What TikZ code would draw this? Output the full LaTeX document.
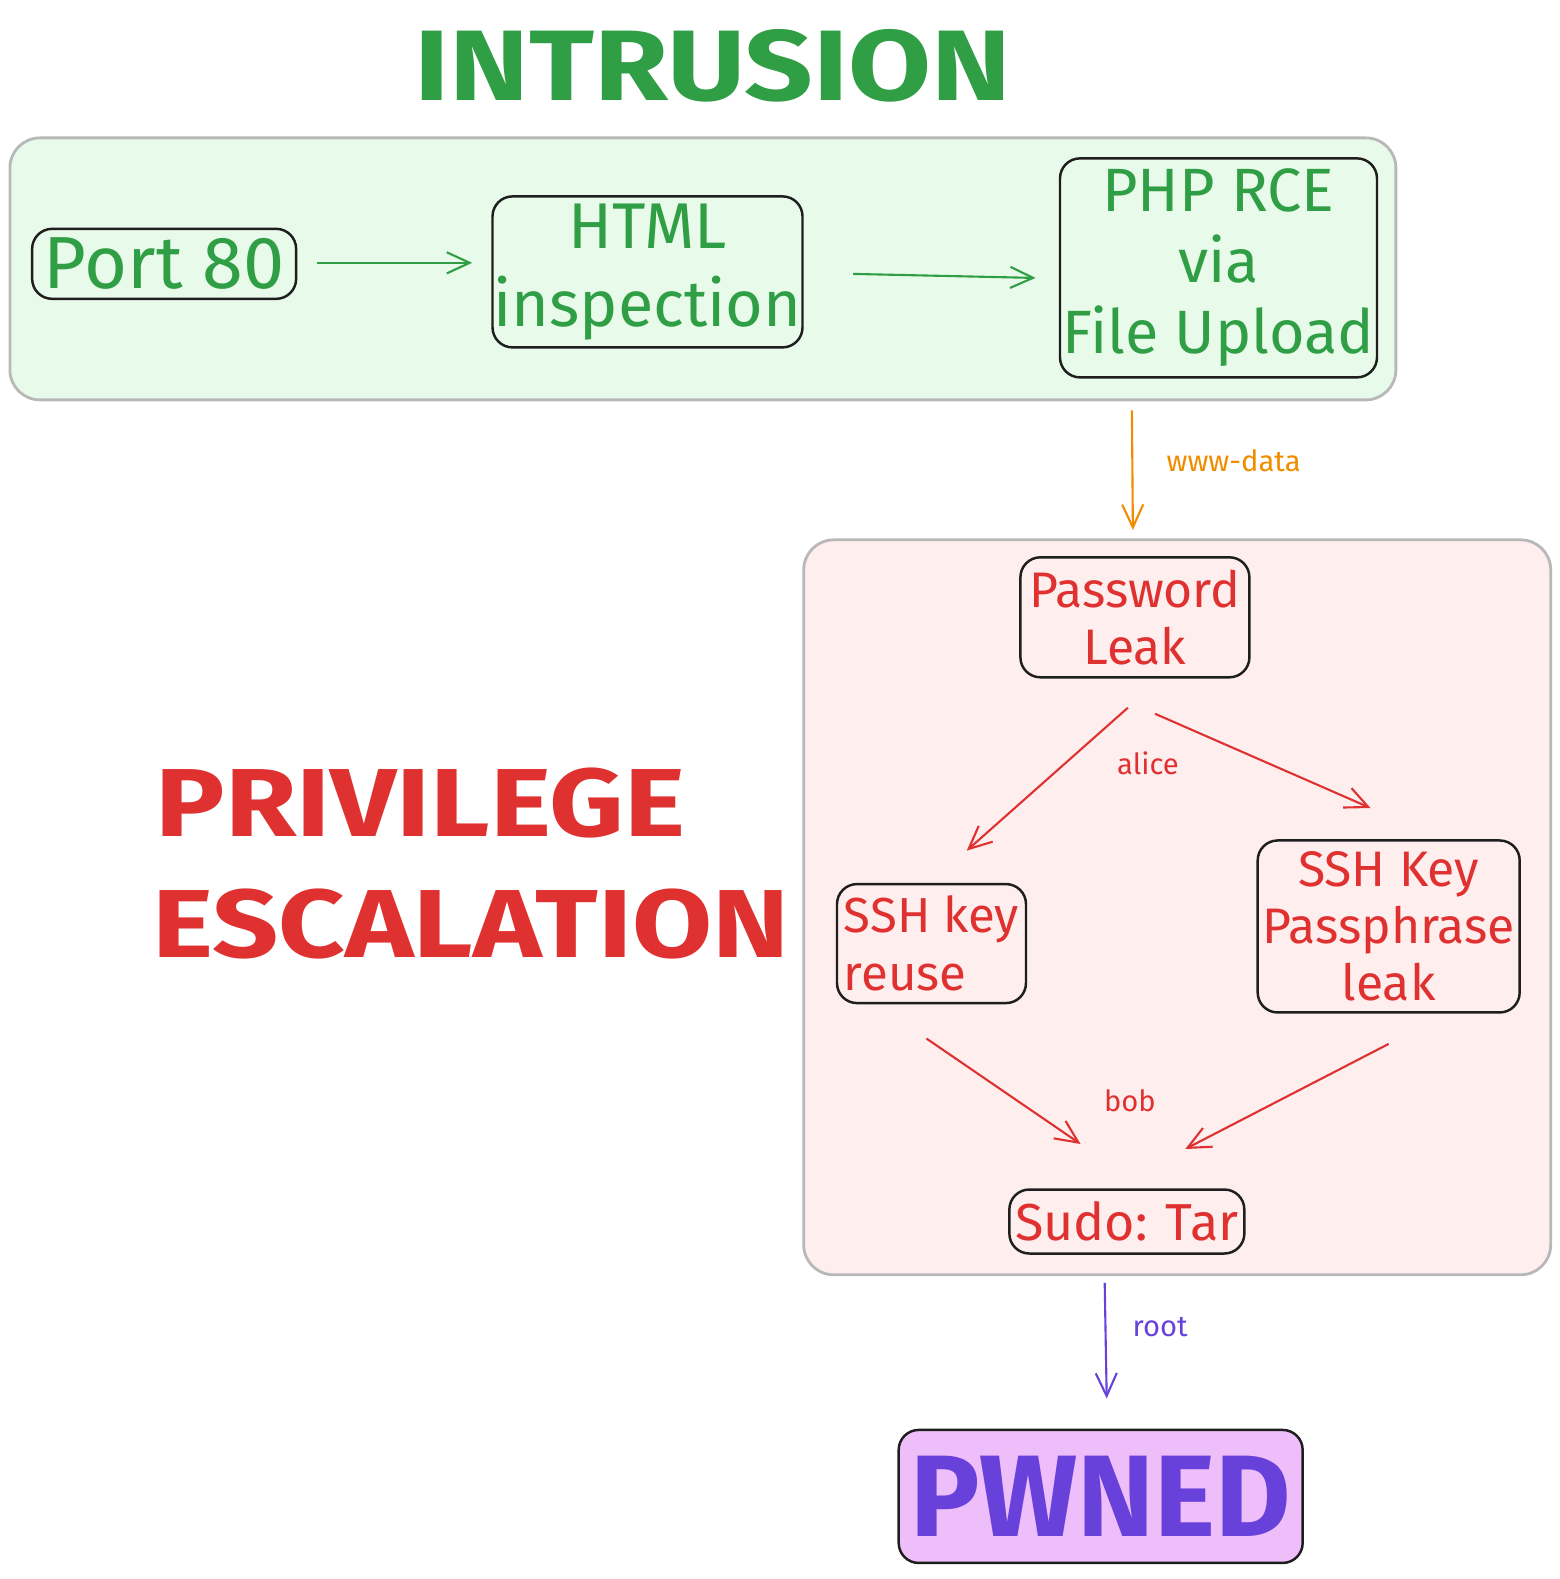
\documentclass[tikz,border=0pt]{standalone}
\usepackage{fontspec}
\setmainfont{Fira Sans}
\newfontfamily\headfont[FakeStretch=1.2]{Fira Sans}
\usetikzlibrary{arrows.meta}
\definecolor{ink}{HTML}{1E1E1E}
\definecolor{zonegray}{HTML}{B8B8B8}
\definecolor{intrgreen}{HTML}{2F9E44}
\definecolor{intrfill}{HTML}{E8FAEA}
\definecolor{privred}{HTML}{E03131}
\definecolor{privfill}{HTML}{FFEEEE}
\definecolor{userorange}{HTML}{F08C00}
\definecolor{rootpurple}{HTML}{6741D9}
\definecolor{pwnfill}{HTML}{EEBEFA}
\tikzset{
	zone/.style={draw=zonegray, line width=0.8pt, rounded corners=0.3cm, inner sep=0pt},
	stage/.style={draw=ink, line width=0.7pt, rounded corners=0.2cm, inner sep=0pt, align=center},
	link/.style={line width=0.6pt, -{Straight Barb[length=6.5pt,width=6pt]}},
	edgetag/.style={inner sep=0pt, font=\fontsize{8.3}{10}\selectfont},
}

\begin{document}
\begin{tikzpicture}[x=0.010071cm, y=-0.010071cm]
			%%%%% START %%%%%
			\useasboundingbox (0, 0) rectangle (1549, 1568);
			
			\node[zone, fill=intrfill, minimum width=13.86cm, minimum height=2.62cm] (intr) at (698, 267) {};
			\node[zone, fill=privfill, minimum width=7.47cm, minimum height=7.35cm] (priv) at (1169, 901) {};
			
			\node[text=intrgreen, font=\headfont\bfseries\fontsize{28.5}{32}\selectfont] (intrtitle) at (708, 65) {INTRUSION};
			\node[anchor=west, text=privred, font=\headfont\bfseries\fontsize{27.5}{32}\selectfont] (privtitle1) at (142, 797) {PRIVILEGE};
			\node[anchor=west, text=privred, font=\headfont\bfseries\fontsize{27.5}{32}\selectfont] (privtitle2) at (139, 918) {ESCALATION};
			
			% intrusion
			\node[stage, minimum width=2.64cm, minimum height=0.70cm, text=intrgreen, font=\fontsize{21}{25}\selectfont] (port) at (163, 262) {Port 80};
			\node[stage, minimum width=3.10cm, minimum height=1.51cm, text=intrgreen, font=\fontsize{18.4}{22.2}\selectfont] (html) at (643, 270) {HTML\\inspection};
			\node[stage, minimum width=3.17cm, minimum height=2.19cm, text=intrgreen, font=\fontsize{17.4}{20.2}\selectfont] (php) at (1210, 266) {PHP RCE\\via\\File Upload};
			
			\draw[link, intrgreen] ([shift={(19, -1)}]port.east) -- ([shift={(-19, -9)}]html.west);
			\draw[link, intrgreen] ([shift={(49, 2)}]html.east) -- ([shift={(-23, 10)}]php.west);
			
			% privilege escalation
			\node[stage, minimum width=2.29cm, minimum height=1.20cm, text=privred, font=\fontsize{14.2}{16.2}\selectfont] (pass) at (1127, 613) {Password\\Leak};
			\node[stage, minimum width=1.89cm, minimum height=1.19cm, text=privred, align=left, font=\fontsize{14}{16.5}\selectfont] (reuse) at (925, 937) {SSH key\\reuse};
			\node[stage, minimum width=2.62cm, minimum height=1.72cm, text=privred, font=\fontsize{14.2}{16.2}\selectfont] (phrase) at (1379, 920) {SSH Key\\Passphrase\\leak};
			\node[stage, minimum width=2.35cm, minimum height=0.64cm, text=privred, font=\fontsize{14.8}{17}\selectfont] (sudo) at (1119, 1213) {Sudo: Tar};
			
			\draw[link, userorange] ([shift={(-3, 9)}]intr.south -| pass.north) -- ([shift={(-2, -26)}]pass.north);
			\node[edgetag, text=userorange] (wwwtag) at (1225, 458) {www-data};
			
			\draw[link, privred] ([shift={(-7, 29)}]pass.south) -- ([shift={(35, -32)}]reuse.north);
			\draw[link, privred] ([shift={(20, 35)}]pass.south) -- ([shift={(-18, -31)}]phrase.north);
			\node[edgetag, text=privred] (alicetag) at (1140, 758) {alice};
			
			\draw[link, privred] ([shift={(-5, 34)}]reuse.south) -- ([shift={(-46, -44)}]sudo.north);
			\draw[link, privred] ([shift={(0, 30)}]phrase.south) -- ([shift={(58, -39)}]sudo.north);
			\node[edgetag, text=privred] (bobtag) at (1122, 1093) {bob};
			
			% root
			\node[stage, fill=pwnfill, minimum width=4.04cm, minimum height=1.33cm, text=rootpurple, font=\bfseries\fontsize{33}{36}\selectfont] (pwned) at (1093, 1486) {PWNED};
			
			\draw[link, rootpurple] ([shift={(-22, 28)}]sudo.south) -- ([shift={(6, -30)}]pwned.north);
			\node[edgetag, text=rootpurple] (roottag) at (1152, 1318) {root};
			
			%%%%% END %%%%%
\end{tikzpicture}
\end{document}
